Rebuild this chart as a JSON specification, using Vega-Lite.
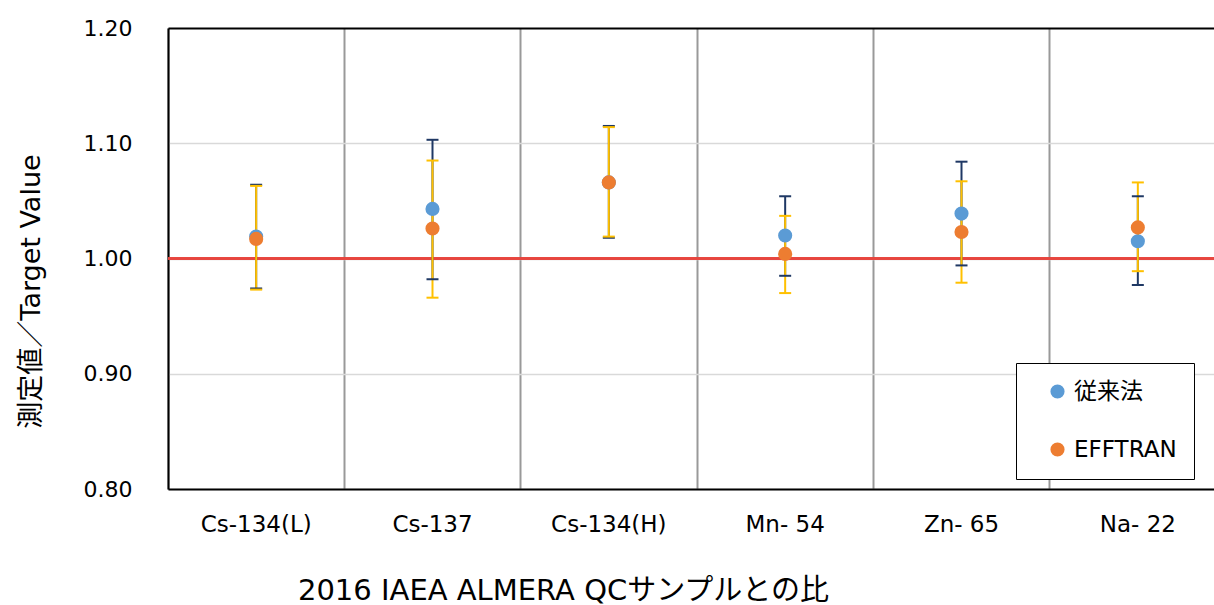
{
  "$schema": "https://vega.github.io/schema/vega-lite/v6.json",
  "autosize": {"type": "none"},
  "padding": {"left": 168, "top": 28, "right": 0, "bottom": 116},
  "width": 1046,
  "height": 461,
  "background": "white",
  "config": {
    "view": {"stroke": null},
    "font": "DejaVu Sans, Noto Sans CJK JP"
  },
  "data": {
    "values": [
      {"sample": "Cs-134(L)", "method": "従来法", "value": 1.019, "lo": 0.974, "hi": 1.064},
      {"sample": "Cs-137", "method": "従来法", "value": 1.043, "lo": 0.982, "hi": 1.103},
      {"sample": "Cs-134(H)", "method": "従来法", "value": 1.066, "lo": 1.018, "hi": 1.115},
      {"sample": "Mn- 54", "method": "従来法", "value": 1.020, "lo": 0.985, "hi": 1.054},
      {"sample": "Zn- 65", "method": "従来法", "value": 1.039, "lo": 0.994, "hi": 1.084},
      {"sample": "Na- 22", "method": "従来法", "value": 1.015, "lo": 0.977, "hi": 1.054},
      {"sample": "Cs-134(L)", "method": "EFFTRAN", "value": 1.017, "lo": 0.973, "hi": 1.063},
      {"sample": "Cs-137", "method": "EFFTRAN", "value": 1.026, "lo": 0.966, "hi": 1.085},
      {"sample": "Cs-134(H)", "method": "EFFTRAN", "value": 1.066, "lo": 1.019, "hi": 1.114},
      {"sample": "Mn- 54", "method": "EFFTRAN", "value": 1.004, "lo": 0.970, "hi": 1.037},
      {"sample": "Zn- 65", "method": "EFFTRAN", "value": 1.023, "lo": 0.979, "hi": 1.067},
      {"sample": "Na- 22", "method": "EFFTRAN", "value": 1.027, "lo": 0.989, "hi": 1.066}
    ]
  },
  "encoding": {
    "x": {
      "field": "sample",
      "type": "nominal",
      "scale": {
        "type": "band",
        "domain": ["Cs-134(L)", "Cs-137", "Cs-134(H)", "Mn- 54", "Zn- 65", "Na- 22"],
        "range": [0, 1058],
        "paddingInner": 0,
        "paddingOuter": 0
      },
      "axis": {
        "title": "2016 IAEA ALMERA QCサンプルとの比",
        "titleFont": "DejaVu Sans, Noto Sans CJK JP",
        "titleFontSize": 29,
        "titleFontWeight": "normal",
        "titleColor": "black",
        "titleX": 395,
        "titleY": 110,
        "titleAlign": "center",
        "titleBaseline": "alphabetic",
        "labelAngle": 0,
        "labelFont": "DejaVu Sans",
        "labelFontSize": 23,
        "labelColor": "black",
        "labelPadding": 24,
        "ticks": false,
        "domainColor": "black",
        "domainWidth": 2,
        "grid": true,
        "bandPosition": 0,
        "gridColor": "#999999",
        "gridWidth": 2
      }
    }
  },
  "layer": [
    {
      "mark": {"type": "rule", "color": "#e8453f", "strokeWidth": 1.3},
      "encoding": {
        "x": null,
        "y": {
          "datum": 1,
          "type": "quantitative",
          "scale": {"domain": [0.8, 1.2], "nice": false, "zero": false},
          "axis": {
            "title": "測定値／Target Value",
            "titleFont": "DejaVu Sans, Noto Sans CJK JP",
            "titleFontSize": 27,
            "titleFontWeight": "normal",
            "titleColor": "black",
            "titleX": -129,
            "titleY": 263,
            "titleAngle": 270,
            "titleAlign": "center",
            "titleBaseline": "alphabetic",
            "values": [0.8, 0.9, 1.0, 1.1, 1.2],
            "format": ".2f",
            "labelFont": "DejaVu Sans",
            "labelFontSize": 22,
            "labelColor": "black",
            "labelPadding": 36,
            "ticks": false,
            "domainColor": "black",
            "domainWidth": 2,
            "grid": true,
            "gridColor": {"condition": {"test": "datum.value >= 1.19", "value": "black"}, "value": "#d9d9d9"},
            "gridWidth": {"condition": {"test": "datum.value >= 1.19", "value": 2}, "value": 1.5}
          }
        }
      }
    },
    {
      "mark": {"type": "rule", "strokeWidth": 2},
      "encoding": {
        "y": {"field": "lo", "type": "quantitative"},
        "y2": {"field": "hi"},
        "color": {
          "field": "method",
          "type": "nominal",
          "scale": {"domain": ["EFFTRAN", "従来法"], "range": ["#ffc000", "#1f3864"]},
          "legend": null
        }
      }
    },
    {
      "mark": {"type": "tick", "size": 12, "thickness": 2, "opacity": 1},
      "encoding": {
        "y": {"field": "lo", "type": "quantitative"},
        "color": {"field": "method", "type": "nominal", "legend": null}
      }
    },
    {
      "mark": {"type": "tick", "size": 12, "thickness": 2, "opacity": 1},
      "encoding": {
        "y": {"field": "hi", "type": "quantitative"},
        "color": {"field": "method", "type": "nominal", "legend": null}
      }
    },
    {
      "mark": {"type": "point", "filled": true, "size": 200, "opacity": 1, "strokeWidth": 0, "shape": "circle"},
      "encoding": {
        "y": {"field": "value", "type": "quantitative"},
        "fill": {
          "field": "method",
          "type": "nominal",
          "scale": {"domain": ["従来法", "EFFTRAN"], "range": ["#5b9bd5", "#ed7d31"]},
          "legend": {
            "title": null,
            "orient": "none",
            "legendX": 848,
            "legendY": 335,
            "padding": 17,
            "strokeColor": "black",
            "fillColor": "white",
            "rowPadding": 34,
            "symbolOffset": 13,
            "labelOffset": 5,
            "symbolType": "circle",
            "symbolSize": 200,
            "symbolStrokeWidth": 0,
            "labelFont": "DejaVu Sans, Noto Sans CJK JP",
            "labelFontSize": 23,
            "labelColor": "black"
          }
        }
      }
    }
  ]
}
